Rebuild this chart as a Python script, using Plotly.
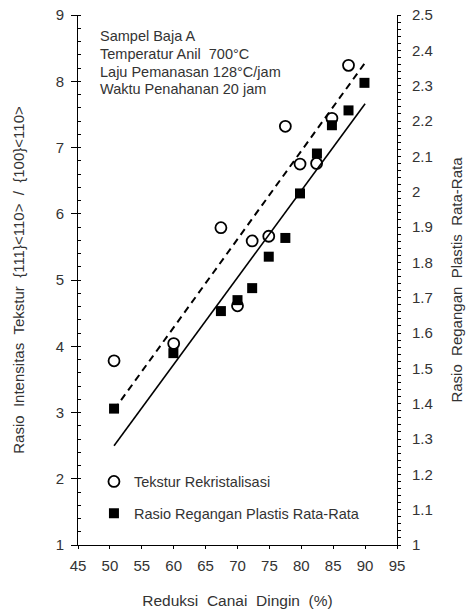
import plotly.graph_objects as go

# ---- data ----
reduction_texture = [50.65, 60.0, 67.4, 70.0, 72.3, 74.9, 77.5, 79.8, 82.4, 84.8, 87.4]
texture_ratio = [3.78, 4.04, 5.79, 4.61, 5.59, 5.66, 7.32, 6.75, 6.76, 7.44, 8.24]

reduction_strain = [50.65, 59.95, 67.4, 70.0, 72.3, 74.9, 77.5, 79.8, 82.45, 84.8, 87.4, 89.9]
strain_ratio = [1.386, 1.543, 1.662, 1.693, 1.727, 1.816, 1.869, 1.995, 2.108, 2.188, 2.230, 2.308]

trend_x = [50.65, 90.0]
trend_texture = [3.04, 8.28]      # dashed line, left axis
trend_strain = [1.281, 2.249]     # solid line, right axis

x_ticks = [45, 50, 55, 60, 65, 70, 75, 80, 85, 90, 95]
note_lines = ["Sampel Baja A", "Temperatur Anil \u00a0700°C", "Laju Pemanasan 128°C/jam", "Waktu Penahanan 20 jam"]

FONT = "Liberation Sans, Arial, sans-serif"
TXT = "#333333"
SP = " \u00a0"

fig = go.Figure()

fig.add_trace(go.Scatter(x=trend_x, y=trend_texture, mode="lines",
                         line=dict(color="black", width=2, dash="7px,5px"),
                         showlegend=False, hoverinfo="skip"))
fig.add_trace(go.Scatter(x=trend_x, y=trend_strain, mode="lines", yaxis="y2",
                         line=dict(color="black", width=1.6),
                         showlegend=False, hoverinfo="skip"))
fig.add_trace(go.Scatter(x=reduction_texture, y=texture_ratio, mode="markers",
                         name="Tekstur Rekristalisasi", legendgroup="a",
                         marker=dict(symbol="circle-open", size=11, color="black",
                                     line=dict(width=1.8, color="black"))))
fig.add_trace(go.Scatter(x=reduction_strain, y=strain_ratio, mode="markers", yaxis="y2",
                         name="Rasio Regangan Plastis Rata-Rata", legendgroup="b",
                         marker=dict(symbol="square", size=10, color="black")))

tickfont = dict(family=FONT, size=15, color=TXT)

fig.update_layout(
    template="none",
    width=469, height=614,
    margin=dict(l=78, r=72.3, t=14.5, b=68.7),
    paper_bgcolor="white", plot_bgcolor="white",
    font=dict(family=FONT, size=13, color=TXT),
    showlegend=True,
    legend=dict(x=0.05, y=0.15, xanchor="left", yanchor="top",
                bgcolor="rgba(0,0,0,0)", traceorder="grouped", tracegroupgap=10,
                font=dict(family=FONT, size=14.5, color=TXT), itemwidth=30),
    xaxis=dict(range=[45, 95], tickvals=x_ticks, ticks="outside", ticklen=3,
               tickcolor="black", showline=True, linecolor="black", linewidth=1,
               showgrid=False, zeroline=False, tickfont=tickfont, ticklabelstandoff=4,
               title=dict(text="Reduksi" + SP + "Canai" + SP + "Dingin" + SP + "(%)",
                          font=dict(family=FONT, size=15.5, color=TXT), standoff=22),
               automargin=False),
    xaxis2=dict(range=[45, 95], tickvals=x_ticks, overlaying="x", anchor="y", side="bottom",
                ticks="inside", ticklen=5, tickcolor="black", showticklabels=False,
                showline=False, showgrid=False, zeroline=False),
    xaxis3=dict(range=[45, 95], overlaying="x", anchor="y", side="top",
                ticks="", showticklabels=False, showline=True, linecolor="#808080",
                linewidth=1, showgrid=False, zeroline=False),
    yaxis=dict(range=[1, 9], dtick=1, tick0=1, ticks="outside", ticklen=6, tickcolor="black",
               minor=dict(ticks="inside", ticklen=3, dtick=0.2, tick0=1, tickcolor="black", showgrid=False),
               showline=True, linecolor="black", linewidth=1, showgrid=False, zeroline=False,
               tickfont=tickfont, ticklabelstandoff=4,
               title=dict(text="Rasio" + SP + "Intensitas" + SP + "Tekstur" + SP + "{111}<110>" + SP + "/" + SP + "{100}<110>",
                          font=dict(family=FONT, size=15, color=TXT), standoff=27),
               automargin=False),
    yaxis2=dict(range=[1, 2.5], dtick=0.1, tick0=1, overlaying="y", side="right", anchor="x",
                ticks="outside", ticklen=3, tickcolor="black",
                minor=dict(ticks="outside", ticklen=3, dtick=0.02, tick0=1, tickcolor="black", showgrid=False),
                showline=True, linecolor="black", linewidth=1, showgrid=False, zeroline=False,
                tickfont=tickfont, ticklabelstandoff=8,
                title=dict(text="Rasio" + SP + "Regangan" + SP + "Plastis" + SP + "Rata-Rata",
                           font=dict(family=FONT, size=15, color=TXT), standoff=19),
                automargin=False),
    yaxis3=dict(range=[1, 9], dtick=1, tick0=1, overlaying="y", side="left", anchor="x",
                ticks="inside", ticklen=4, tickcolor="black", showticklabels=False,
                showline=False, showgrid=False, zeroline=False),
    yaxis4=dict(range=[1, 2.5], dtick=0.1, tick0=1, overlaying="y", side="right", anchor="x",
                ticks="inside", ticklen=6, tickcolor="black", showticklabels=False,
                showline=False, showgrid=False, zeroline=False),
)

# info block: one annotation per line (tighter line spacing than <br>)
plot_h = 614 - 14.5 - 68.7
first_line_px = 36.0   # centre of the first line, from the top of the figure
line_step_px = 17.7
for i, line in enumerate(note_lines):
    y_px = first_line_px + i * line_step_px
    fig.add_annotation(x=0.066, y=1 - (y_px - 14.5) / plot_h, xref="paper", yref="paper",
                       xanchor="left", yanchor="middle", align="left", showarrow=False,
                       text=line, borderpad=0,
                       font=dict(family=FONT, size=14.5, color=TXT))

fig.write_html("out.html", config={"displayModeBar": False},
               post_script="document.body.style.margin='0';")
